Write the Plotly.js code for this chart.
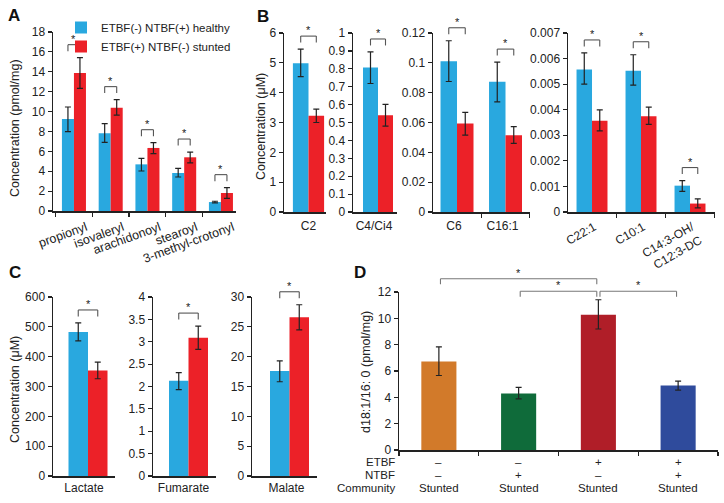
<!DOCTYPE html>
<html><head><meta charset="utf-8">
<script src="https://cdn.plot.ly/plotly-3.0.1.min.js"></script>
<style>html,body{margin:0;padding:0;background:#fff}#chart{width:724px;height:503px}</style>
</head><body><div id="chart"></div>
<script>
// ---------- Panel A (pmol/mg) ----------
const aCats = ['propionyl', 'isovaleryl', 'arachidonoyl', 'stearoyl', '3-methyl-crotonyl'];
const aHealthy   = [9.25, 7.81, 4.69, 3.82, 0.90];
const aHealthyUp = [1.21, 0.97, 0.61, 0.47, 0.08];
const aHealthyDn = [1.27, 0.91, 0.67, 0.40, 0.09];
const aStunted   = [13.88, 10.39, 6.34, 5.40, 1.81];
const aStuntedUp = [1.54, 0.81, 0.53, 0.53, 0.54];
const aStuntedDn = [1.54, 0.74, 0.57, 0.57, 0.54];

// ---------- Panel B (µM) ----------
const b1Cats = ['C2'];
const b1Healthy = [4.99];  const b1HealthyUp = [0.47];  const b1HealthyDn = [0.45];
const b1Stunted = [3.23];  const b1StuntedUp = [0.22];  const b1StuntedDn = [0.23];

const b2Cats = ['C4/Ci4'];
const b2Healthy = [0.807]; const b2HealthyUp = [0.087]; const b2HealthyDn = [0.089];
const b2Stunted = [0.540]; const b2StuntedUp = [0.061]; const b2StuntedDn = [0.060];

const b3Cats = ['C6', 'C16:1'];
const b3Healthy = [0.101, 0.0873];  const b3HealthyUp = [0.0138, 0.0132]; const b3HealthyDn = [0.0135, 0.0135];
const b3Stunted = [0.0594, 0.0514]; const b3StuntedUp = [0.0074, 0.0058]; const b3StuntedDn = [0.0078, 0.0054];

const b4Cats = ['C22:1', 'C10:1', 'C14:3-OH/<br>C12:3-DC'];
const b4Healthy = [0.00557, 0.00552, 0.00103]; const b4HealthyUp = [0.00065, 0.00063, 0.00020]; const b4HealthyDn = [0.00057, 0.00056, 0.00022];
const b4Stunted = [0.00357, 0.00374, 0.00033]; const b4StuntedUp = [0.00042, 0.00036, 0.00018]; const b4StuntedDn = [0.00040, 0.00031, 0.00017];

// ---------- Panel C (µM) ----------
const c1Cats = ['Lactate'];
const c1Healthy = [483]; const c1HealthyUp = [30];  const c1HealthyDn = [30];
const c1Stunted = [354]; const c1StuntedUp = [28];  const c1StuntedDn = [28];
const c2Cats = ['Fumarate'];
const c2Healthy = [2.13]; const c2HealthyUp = [0.18]; const c2HealthyDn = [0.20];
const c2Stunted = [3.09]; const c2StuntedUp = [0.26]; const c2StuntedDn = [0.26];
const c3Cats = ['Malate'];
const c3Healthy = [17.6]; const c3HealthyUp = [1.7]; const c3HealthyDn = [1.8];
const c3Stunted = [26.6]; const c3StuntedUp = [2.1]; const c3StuntedDn = [2.1];

// ---------- Panel D (d18:1/16:0, pmol/mg) ----------
const dCats = ['E-N-', 'E-N+', 'E+N-', 'E+N+'];
const dValues = [6.72, 4.29, 10.28, 4.90];
const dUp = [1.11, 0.46, 1.13, 0.33];
const dDn = [1.06, 0.40, 1.09, 0.35];
const dEtbf = ['–', '–', '+', '+'];
const dNtbf = ['–', '+', '–', '+'];
const dCommunity = ['Stunted', 'Stunted', 'Stunted', 'Stunted'];
const dRowNames = ['ETBF', 'NTBF', 'Community'];
const dPairs = [[0, 2], [1, 2], [2, 3]];
const dPairLevel = [1, 0, 0];

const seriesNames = ['ETBF(-) NTBF(+) healthy', 'ETBF(+) NTBF(-) stunted'];

// ---------- styling ----------
const W = 724, H = 503;
const FONT = 'Liberation Sans, Arial, Helvetica, sans-serif';
const INK = '#222';
const BLUE = '#29a8df', RED = '#ec2128';
const dColors = ['#d27a2a', '#0f6b3a', '#b01e28', '#2f4b9c'];
const px = v => v / W;
const py = v => 1 - v / H;

const panels = [
  {id: '',  cats: aCats,  h: aHealthy,  hu: aHealthyUp,  hd: aHealthyDn,  s: aStunted,  su: aStuntedUp,  sd: aStuntedDn,
   dom: [53, 236], ydom: [32, 211], xr: [-0.57, 4.41], yr: [0, 18], dt: 2, w: 0.327, ticks: true, angle: -20, legend: true, lblshift: 12, lblstand: 3, lblsize: 12.5},
  {id: '2', cats: b1Cats, h: b1Healthy, hu: b1HealthyUp, hd: b1HealthyDn, s: b1Stunted, su: b1StuntedUp, sd: b1StuntedDn,
   dom: [284, 326], ydom: [33, 212], xr: [-0.6125, 0.4375], yr: [0, 6], dt: 1, w: 0.39, ticks: false, angle: 0, lblshift: 0, lblstand: 2},
  {id: '3', cats: b2Cats, h: b2Healthy, hu: b2HealthyUp, hd: b2HealthyDn, s: b2Stunted, su: b2StuntedUp, sd: b2StuntedDn,
   dom: [353, 397], ydom: [33, 212], xr: [-0.625, 0.475], yr: [0, 1], dt: 0.1, w: 0.375, ticks: false, angle: 0, lblshift: -4, lblstand: 2},
  {id: '4', cats: b3Cats, h: b3Healthy, hu: b3HealthyUp, hd: b3HealthyDn, s: b3Stunted, su: b3StuntedUp, sd: b3StuntedDn,
   dom: [433, 530], ydom: [33, 212], xr: [-0.495, 1.505], yr: [0, 0.12], dt: 0.02, w: 0.34, ticks: true, angle: 0, lblshift: -3, lblstand: 2},
  {id: '5', cats: b4Cats, h: b4Healthy, hu: b4HealthyUp, hd: b4HealthyDn, s: b4Stunted, su: b4StuntedUp, sd: b4StuntedDn,
   dom: [568, 715], ydom: [33, 212], xr: [-0.49, 2.51], yr: [0, 0.007], dt: 0.001, w: 0.316, ticks: true, angle: -30, lblshift: 2, lblstand: 2},
  {id: '6', cats: c1Cats, h: c1Healthy, hu: c1HealthyUp, hd: c1HealthyDn, s: c1Stunted, su: c1StuntedUp, sd: c1StuntedDn,
   dom: [53, 115], ydom: [297, 476], xr: [-0.7, 0.54], yr: [0, 600], dt: 100, w: 0.39, ticks: false, angle: 0, lblshift: -4, lblstand: 0},
  {id: '7', cats: c2Cats, h: c2Healthy, hu: c2HealthyUp, hd: c2HealthyDn, s: c2Stunted, su: c2StuntedUp, sd: c2StuntedDn,
   dom: [153, 216], ydom: [297, 476], xr: [-0.71, 0.55], yr: [0, 4], dt: 0.5, w: 0.39, ticks: false, angle: 0, lblshift: -5, lblstand: 0},
  {id: '8', cats: c3Cats, h: c3Healthy, hu: c3HealthyUp, hd: c3HealthyDn, s: c3Stunted, su: c3StuntedUp, sd: c3StuntedDn,
   dom: [252, 317], ydom: [297, 476], xr: [-0.75, 0.55], yr: [0, 30], dt: 5, w: 0.39, ticks: false, angle: 0, lblshift: -3, lblstand: 0}
];

const traces = [];
const shapes = [];
const annotations = [];
const layout = {
  width: W, height: H,
  margin: {l: 0, r: 0, t: 0, b: 0},
  paper_bgcolor: '#fff', plot_bgcolor: 'rgba(0,0,0,0)',
  font: {family: FONT, size: 12, color: INK},
  barmode: 'overlay',
  showlegend: true,
  legend: {x: px(61), y: py(13), xanchor: 'left', yanchor: 'top', bgcolor: 'rgba(0,0,0,0)',
           font: {size: 11.5, color: INK}, itemwidth: 30, tracegroupgap: 0},
  shapes: shapes, annotations: annotations
};

function axisBase() {
  return {showgrid: false, zeroline: false, showline: true, linecolor: INK, linewidth: 1.5,
          tickcolor: INK, tickwidth: 1.2, ticklen: 4, tickfont: {size: 12, color: INK}, fixedrange: true};
}

function errOpts(up, dn) {
  return {type: 'data', symmetric: false, array: up, arrayminus: dn, color: INK, thickness: 1.2, width: 3};
}

// position of a data value of a y axis, expressed as a paper fraction (through that axis' domain and range)
function yToPaper(ydomPx, yr, v) {
  const lo = py(ydomPx[1]), hi = py(ydomPx[0]);
  return lo + (v - yr[0]) / (yr[1] - yr[0]) * (hi - lo);
}

const BR_OFF = 13, BR_LEG = 6.5, STAR_SHIFT = 17;

function bracket(xa, x0, x1, yPaper, off, leg, color) {
  const common = {type: 'line', xref: xa, yref: 'paper', ysizemode: 'pixel', yanchor: yPaper, line: {color: color, width: 1.1}};
  shapes.push(Object.assign({}, common, {x0: x0, x1: x1, y0: off, y1: off}));
  shapes.push(Object.assign({}, common, {x0: x0, x1: x0, y0: off, y1: off - leg}));
  shapes.push(Object.assign({}, common, {x0: x1, x1: x1, y0: off, y1: off - leg}));
}

panels.forEach(p => {
  const xa = 'x' + p.id, ya = 'y' + p.id;
  traces.push({type: 'bar', x: p.cats, y: p.h, name: seriesNames[0], marker: {color: BLUE, line: {width: 0}},
    width: p.w, offset: -p.w, xaxis: xa, yaxis: ya, showlegend: !!p.legend, error_y: errOpts(p.hu, p.hd), hoverinfo: 'skip'});
  traces.push({type: 'bar', x: p.cats, y: p.s, name: seriesNames[1], marker: {color: RED, line: {width: 0}},
    width: p.w, offset: 0, xaxis: xa, yaxis: ya, showlegend: !!p.legend, error_y: errOpts(p.su, p.sd), hoverinfo: 'skip'});

  const xk = 'xaxis' + p.id, yk = 'yaxis' + p.id;
  layout[xk] = Object.assign(axisBase(), {
    domain: [px(p.dom[0]), px(p.dom[1])], anchor: ya, type: 'category', range: p.xr,
    ticks: p.ticks ? 'outside' : '', tickson: 'boundaries', tickangle: p.angle,
    ticklabelshift: p.lblshift, ticklabelstandoff: p.lblstand, tickfont: {size: p.lblsize || 12, color: INK}
  });
  layout[yk] = Object.assign(axisBase(), {
    domain: [py(p.ydom[1]), py(p.ydom[0])], anchor: xa, range: p.yr, dtick: p.dt, tick0: 0, ticks: 'outside'
  });

  // significance brackets from blue-bar centre to red-bar centre
  p.cats.forEach((c, i) => {
    const top = Math.max(p.h[i] + p.hu[i], p.s[i] + p.su[i]);
    bracket(xa, i - p.w / 2, i + p.w / 2, yToPaper(p.ydom, p.yr, top), BR_OFF, BR_LEG, '#555');
    annotations.push({xref: xa, yref: ya, x: i, y: top, yshift: STAR_SHIFT + 2, text: '*',
      showarrow: false, font: {size: 11, color: INK}, yanchor: 'middle', xanchor: 'center'});
  });
});

// ---------- Panel D ----------
const dYdom = [292, 450], dYr = [0, 12];
traces.push({type: 'bar', x: dCats, y: dValues, marker: {color: dColors, line: {width: 0}}, width: 0.44,
  xaxis: 'x9', yaxis: 'y9', showlegend: false, error_y: errOpts(dUp, dDn), hoverinfo: 'skip'});
layout.xaxis9 = Object.assign(axisBase(), {domain: [px(399), px(718)], anchor: 'y9', type: 'category', range: [-0.5, 3.5],
  ticks: 'outside', tickson: 'boundaries', showticklabels: false});
layout.yaxis9 = Object.assign(axisBase(), {domain: [py(dYdom[1]), py(dYdom[0])], anchor: 'x9', range: dYr, dtick: 2, tick0: 0, ticks: 'outside'});

dPairs.forEach((pr, k) => {
  const [a, b] = pr;
  let top = 0;
  for (let i = a; i <= b; i++) top = Math.max(top, dValues[i] + dUp[i]);
  const off = 8.5 + dPairLevel[k] * 12.5;
  bracket('x9', a + 0.02, b - 0.02, yToPaper(dYdom, dYr, top), off, 5.5, '#777');
  annotations.push({xref: 'x9', yref: 'y9', x: (a + b) / 2, y: top, yshift: off + 6, text: '*',
    showarrow: false, font: {size: 11, color: INK}, yanchor: 'middle', xanchor: 'center'});
});

const rowY = [462, 475, 488];
[dEtbf, dNtbf, dCommunity].forEach((row, r) => {
  annotations.push({xref: 'paper', yref: 'paper', x: px(397), y: py(rowY[r]), text: dRowNames[r], showarrow: false,
    xanchor: 'right', yanchor: 'middle', font: {size: 11.5, color: INK}});
  row.forEach((t, i) => {
    annotations.push({xref: 'x9', yref: 'paper', x: i, y: py(rowY[r]), text: t, showarrow: false,
      xanchor: 'center', yanchor: 'middle', font: {size: 11.5, color: INK}});
  });
});

// ---------- axis titles & panel letters ----------
const titles = [
  {t: 'Concentration (pmol/mg)', x: 15, y: 128},
  {t: 'Concentration (μM)', x: 261, y: 127},
  {t: 'Concentration (μM)', x: 15, y: 390},
  {t: 'd18:1/16: 0 (pmol/mg)', x: 366, y: 372}
];
titles.forEach(o => annotations.push({xref: 'paper', yref: 'paper', x: px(o.x), y: py(o.y), text: o.t, textangle: -90,
  showarrow: false, xanchor: 'center', yanchor: 'middle', font: {size: 12.5, color: INK}}));

const letters = [['A', 6, 16], ['B', 255, 17], ['C', 7, 272], ['D', 352, 272]];
letters.forEach(([t, x, y]) => annotations.push({xref: 'paper', yref: 'paper', x: px(x), y: py(y), text: '<b>' + t + '</b>',
  showarrow: false, xanchor: 'left', yanchor: 'middle', font: {size: 17, color: '#111'}}));

Plotly.newPlot('chart', traces, layout, {staticPlot: true, displayModeBar: false});
</script>
</body></html>
